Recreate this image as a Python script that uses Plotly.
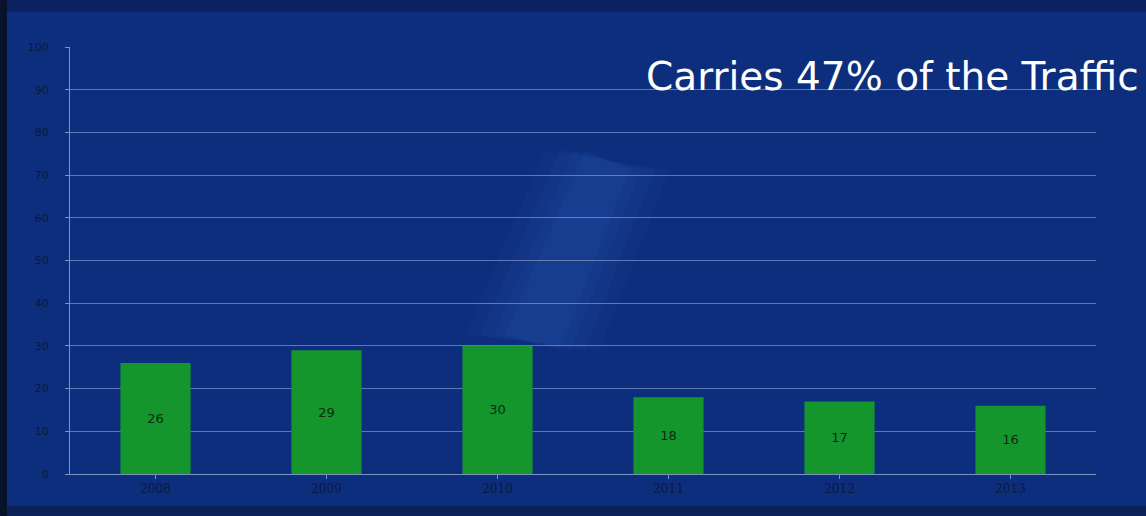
import plotly.graph_objects as go

years = ["2008", "2009", "2010", "2011", "2012", "2013"]
values = [26, 29, 30, 18, 17, 16]
y_ticks = [0, 10, 20, 30, 40, 50, 60, 70, 80, 90, 100]
title_text = "Carries 47% of the Traffic"

W, H = 1146, 516
ml, mr, mt, mb = 70, 50, 47, 42
pw, ph = W - ml - mr, H - mt - mb

def px(x):
    return (x - ml) / pw

def py(y):
    return (H - mb - y) / ph

fig = go.Figure()
fig.add_trace(go.Bar(
    x=years, y=values,
    marker=dict(color="#14962c", line=dict(width=0)),
    text=[str(v) for v in values],
    textposition="inside", insidetextanchor="middle",
    textfont=dict(color="#0c2a14", size=13, family="DejaVu Sans"),
    width=0.41,
))

shapes = []
# soft light beam built from several faint layers
beam_layers = [
    (45, 0.04), (30, 0.05), (16, 0.06), (5, 0.06),
]
for grow, op in beam_layers:
    shapes.append(dict(
        type="path", xref="paper", yref="paper", layer="below",
        path=(f"M {px(590 - grow)} {py(150)} L {px(625 + grow)} {py(170)} "
              f"L {px(555 + grow)} {py(350)} L {px(510 - grow)} {py(335)} Z"),
        fillcolor=f"rgba(70,130,240,{op})", line=dict(width=0)))
shapes += [
    # dark top band
    dict(type="rect", xref="paper", yref="paper", layer="below",
         x0=px(0), x1=px(W), y0=py(12), y1=py(0),
         fillcolor="#0a2260", line=dict(width=0)),
    # bottom strip
    dict(type="rect", xref="paper", yref="paper", layer="below",
         x0=px(7), x1=px(W), y0=py(H), y1=py(506),
         fillcolor="#0a2258", line=dict(width=0)),
    # dark left edge
    dict(type="rect", xref="paper", yref="paper", layer="above",
         x0=px(0), x1=px(7), y0=py(H), y1=py(0),
         fillcolor="#08122a", line=dict(width=0)),
]

fig.update_layout(
    width=W, height=H,
    margin=dict(l=ml, r=mr, t=mt, b=mb),
    paper_bgcolor="#0d2e7c",
    plot_bgcolor="rgba(0,0,0,0)",
    showlegend=False,
    shapes=shapes,
    xaxis=dict(
        range=[-0.5, 5.5], showgrid=False, ticks="outside", ticklen=4,
        tickcolor="rgba(170,190,225,0.7)", showline=True,
        linecolor="rgba(170,190,225,0.7)", linewidth=1,
        tickfont=dict(color="#0a1a3c", size=12, family="DejaVu Serif"),
    ),
    yaxis=dict(
        range=[0, 100], tickvals=y_ticks, showgrid=True,
        gridcolor="rgba(160,180,220,0.55)", gridwidth=1,
        showline=True, linecolor="rgba(170,190,225,0.7)", linewidth=1,
        zeroline=False, ticks="outside", ticklen=4,
        tickcolor="rgba(170,190,225,0.7)", ticklabelstandoff=14,
        tickfont=dict(color="#0a1a3c", size=11, family="DejaVu Sans"),
    ),
    annotations=[dict(
        text=title_text, xref="paper", yref="paper",
        x=px(644), y=py(77), xanchor="left", yanchor="middle",
        showarrow=False,
        font=dict(color="white", size=39, family="DejaVu Sans"),
    )],
)

fig.write_html("out.html")
